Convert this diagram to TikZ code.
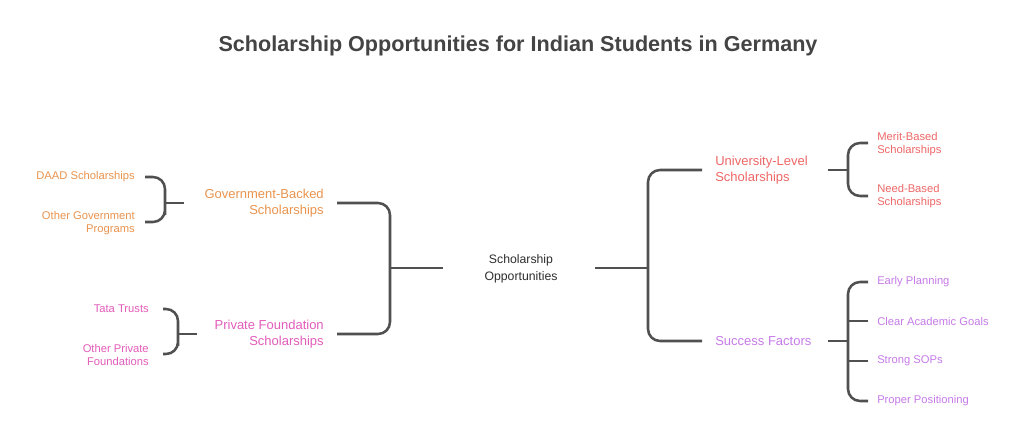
\documentclass[tikz,border=0pt]{standalone}
\usepackage{fontspec}
\setmainfont{Liberation Sans}
\usetikzlibrary{calc}
\definecolor{orng}{HTML}{E9944F}
\definecolor{pnk}{HTML}{E35DBB}
\definecolor{rd}{HTML}{EE6767}
\definecolor{prp}{HTML}{C77BE8}
\definecolor{ln}{HTML}{505050}
\definecolor{ttl}{HTML}{444444}
\definecolor{ctr}{HTML}{2E2E2E}
\begin{document}
\begin{tikzpicture}[x=0.75pt,y=-0.75pt,
  conn/.style={draw=ln,line width=1.9pt,rounded corners=9pt},
  leaf/.style={inner sep=0pt,font=\fontsize{8.4}{10.2}\selectfont},
  mid/.style={inner sep=0pt,font=\fontsize{9.75}{12}\selectfont},
  lt/.style={align=right,anchor=east},
  rt/.style={align=left,anchor=west}]
\useasboundingbox[fill=white] (0,0) rectangle (1024,448);
\node[font=\fontsize{16.2}{19}\selectfont\bfseries,text=ttl] (title) at (518,46) {Scholarship Opportunities for Indian Students in Germany};
\node[inner sep=0pt,align=center,text=ctr,font=\fontsize{9.2}{12.7}\selectfont] (center) at (521,269) {Scholarship\\Opportunities};
% left mid
\node[mid,lt,text=orng] (gov) at (324,203) {Government-Backed\\Scholarships};
\node[mid,lt,text=pnk] (priv) at (324,334) {Private Foundation\\Scholarships};
% right mid
\node[mid,rt,text=rd] (uni) at (715,170) {University-Level\\Scholarships};
\node[mid,rt,text=prp] (succ) at (715,341) {Success Factors};
% left leaves
\node[leaf,lt,text=orng] (daad) at (135,177) {DAAD Scholarships};
\node[leaf,lt,text=orng] (ogov) at (135,223) {Other Government\\Programs};
\node[leaf,lt,text=pnk] (tata) at (149,309) {Tata Trusts};
\node[leaf,lt,text=pnk] (opriv) at (149,355) {Other Private\\Foundations};
% right leaves
\node[leaf,rt,text=rd] (merit) at (877,144) {Merit-Based\\Scholarships};
\node[leaf,rt,text=rd] (need) at (877,196) {Need-Based\\Scholarships};
\node[leaf,rt,text=prp] (early) at (877,282) {Early Planning};
\node[leaf,rt,text=prp] (clear) at (877,321) {Clear Academic Goals};
\node[leaf,rt,text=prp] (sops) at (877,361) {Strong SOPs};
\node[leaf,rt,text=prp] (pos) at (877,401) {Proper Positioning};
% junctions
\coordinate (jl) at (390,268);
\coordinate (jr) at (648,268);
\coordinate (jg) at (165,203);
\coordinate (jp) at (178,334);
\coordinate (ju) at (848,170);
\coordinate (js) at (848,341);
% main left
\draw[conn] ($(gov.east)+(13,0)$) -| (jl) |- ($(priv.east)+(13,0)$);
\draw[conn] (jl) -- ($(jl)+(53,0)$);
% main right
\draw[conn] ($(uni.west)+(-13,0)$) -| (jr) |- ($(succ.west)+(-13,0)$);
\draw[conn] ($(jr)+(-53,0)$) -- (jr);
% gov bracket
\draw[conn] ($(daad.east)+(10,0)$) -| (jg) |- ($(ogov.east)+(10,-1)$);
\draw[conn] ($(jg)+(19,0)$) -- (jg);
% priv bracket
\draw[conn] ($(tata.east)+(14,0)$) -| (jp) |- ($(opriv.east)+(14,-1)$);
\draw[conn] ($(jp)+(19,0)$) -- (jp);
% uni bracket
\draw[conn] ($(merit.west)+(-9,-1)$) -| (ju) |- ($(need.west)+(-9,0)$);
\draw[conn] ($(ju)+(-20,0)$) -- (ju);
% success bracket
\draw[conn] ($(early.west)+(-9,0)$) -| (js) |- ($(pos.west)+(-9,0)$);
\draw[conn] ($(js)+(-20,0)$) -- (js);
\draw[conn] ($(clear.west)+(-9,0)$) -- (js |- clear.west);
\draw[conn] ($(sops.west)+(-9,0)$) -- (js |- sops.west);
\end{tikzpicture}
\end{document}
